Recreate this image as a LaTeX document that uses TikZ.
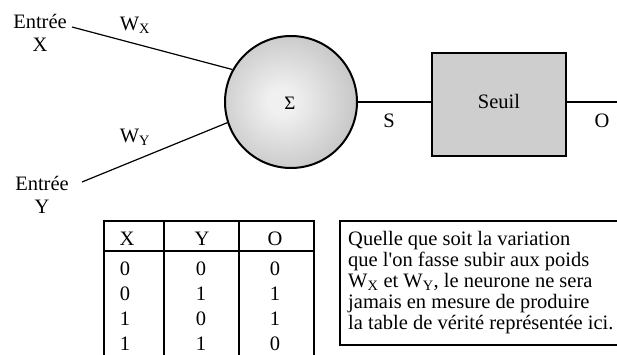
\documentclass[tikz,border=0pt]{standalone}
\usepackage{fontspec}
\setmainfont{Liberation Serif}
\definecolor{ballin}{RGB}{240,240,240}
\definecolor{ballout}{RGB}{158,158,158}
\definecolor{boxfill}{RGB}{206,206,206}
\pgfdeclareradialshading{ballshade}{\pgfpoint{-4bp}{0bp}}{color(0bp)=(ballin); color(5bp)=(ballin); color(50bp)=(ballout); color(75bp)=(ballout)}
\begin{document}
\begin{tikzpicture}[x=1pt,y=-1pt,
  every node/.style={font=\fontsize{20.5}{23}\selectfont, inner sep=0pt},
  conn/.style={line width=1.2pt},
  tline/.style={line width=1.4pt}]
\useasboundingbox (0,0) rectangle (617,355);
% neuron
\node[circle, draw, line width=2pt, minimum size=132pt, shading=ballshade] (sum) at (291,102) {};
\node[font=\fontsize{19}{21}\selectfont] (sigma) at (290,103) {Σ};
\node[rectangle, draw, line width=2pt, fill=boxfill, minimum width=134pt, minimum height=103pt] (seuil) at (499,104.5) {};
\node (seuiltxt) at (499,101) {Seuil};
% inputs
\node[align=center] (ex) at (40,33) {Entrée\\X};
\node[align=center] (ey) at (42,195) {Entrée\\Y};
\coordinate (exend) at (72,27);
\coordinate (eyend) at (82,182);
\draw[conn] (exend) -- (sum.151.5);
\draw[conn] (eyend) -- (sum.198.4);
\node (wx) at (135,25) {W\textsubscript{X}};
\node (wy) at (135,137) {W\textsubscript{Y}};
% output
\coordinate (oend) at (617,102);
\draw[conn] (sum.east) -- (sum.east -| seuil.west);
\draw[conn] (sum.east -| seuil.east) -- (oend);
\node (s) at (389,121) {S};
\node (o) at (602,121) {O};
% truth table
\draw[tline] (104,355) -- (104,221) -- (314,221) -- (314,355);
\draw[tline] (164,221) -- (164,355);
\draw[tline] (239,221) -- (239,355);
\draw[tline] (104,251) -- (314,251);
\node (hx) at (127,239) {X};
\node (hy) at (202,239) {Y};
\node (ho) at (275,239) {O};
\foreach \a/\b/\c [count=\i] in {0/0/0,0/1/1,1/0/1,1/1/0}{
  \node at (125,244.5+24.7*\i) {\a};
  \node at (201,244.5+24.7*\i) {\b};
  \node at (275,244.5+24.7*\i) {\c};
}
% explanation box
\draw[tline] (617,221) -- (340,221) -- (340,345) -- (617,345);
\node[anchor=north west, align=left, font=\fontsize{20.5}{21}\selectfont] (note) at (348,231) {Quelle que soit la variation\\que l\textquotesingle on fasse subir aux poids\\W\textsubscript{X} et W\textsubscript{Y}, le neurone ne sera\\jamais en mesure de produire\\la table de vérité représentée ici.};
\end{tikzpicture}
\end{document}
